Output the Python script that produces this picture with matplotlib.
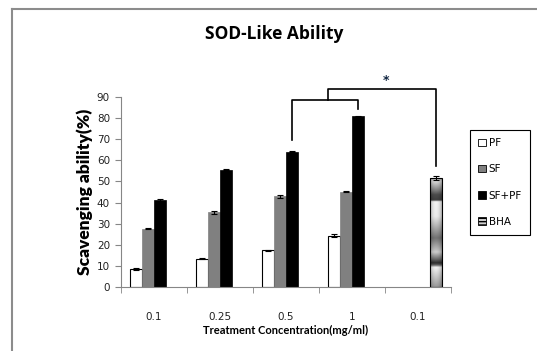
import numpy as np
import matplotlib
matplotlib.use('Agg')
from matplotlib import pyplot as plt
from matplotlib.patches import Patch
from matplotlib.lines import Line2D

# data
categories = ['0.1', '0.25', '0.5', '1', '0.1']
pf = [8.5, 13.5, 17.3, 24.3, np.nan]
pf_err = [0.5, 0.4, 0.3, 0.8, np.nan]
sf = [27.6, 35.3, 42.9, 45.1, np.nan]
sf_err = [0.3, 0.5, 0.8, 0.3, np.nan]
sfpf = [41.3, 55.6, 64.1, 80.8, np.nan]
sfpf_err = [0.4, 0.2, 0.3, 0.3, np.nan]
bha = [np.nan, np.nan, np.nan, np.nan, 51.6]
bha_err = [np.nan, np.nan, np.nan, np.nan, 0.8]

W, H = 537, 351
fig = plt.figure(figsize=(W / 100, H / 100), dpi=100)
ax = fig.add_axes([121 / W, 1 - 287 / H, 330 / W, 190 / H])

x = np.arange(len(categories))
w = 0.18
err_kw = dict(ecolor='black', capsize=2.5, elinewidth=0.8, capthick=0.8)

ax.bar(x - 1.5 * w, pf, w, color='white', edgecolor='black', lw=0.8,
       yerr=pf_err, error_kw=err_kw, zorder=2)
ax.bar(x - 0.5 * w, sf, w, color='#808080', edgecolor='#808080', lw=0.5,
       yerr=sf_err, error_kw=err_kw, zorder=2)
ax.bar(x + 0.5 * w, sfpf, w, color='black', edgecolor='black', lw=0.5,
       yerr=sfpf_err, error_kw=err_kw, zorder=2)
bars = ax.bar(x + 1.5 * w, bha, w, color='none', edgecolor='black', lw=0.8,
              yerr=bha_err, error_kw=err_kw, zorder=3)

# gradient fill of the BHA bar
prof_pos = [0.0, 0.03, 0.10, 0.15, 0.20, 0.215, 0.35, 0.55, 0.68, 0.74, 0.78, 0.80, 0.82, 1.0]
prof_val = [0.70, 0.85, 0.55, 0.30, 0.25, 0.95, 0.92, 0.45, 0.80, 0.45, 0.18, 0.40, 0.95, 0.60]
ys = np.linspace(0, 1, 200)
col = np.interp(ys, prof_pos, prof_val)
xs = np.linspace(-1, 1, 30)
shade = 1 - 0.25 * xs ** 2
img = np.outer(col, shade)
for b in bars:
    h = b.get_height()
    if np.isnan(h):
        continue
    x0 = b.get_x()
    im = ax.imshow(img, cmap='gray', vmin=0, vmax=1, aspect='auto',
                   extent=[x0, x0 + b.get_width(), 0, h], origin='upper', zorder=2)
    im.set_clip_path(b)

ax.set_xlim(-0.5, len(categories) - 0.5)
ax.set_ylim(0, 90)
ax.set_yticks(np.arange(0, 91, 10))
ax.set_xticks(x)
ax.set_xticklabels(categories, fontsize=7.5, color='#222222')
ax.set_xticks(np.arange(len(categories) + 1) - 0.5, minor=True)
ax.tick_params(axis='x', which='major', length=0, pad=18)
ax.tick_params(axis='x', which='minor', length=4, color='#868686')
ax.tick_params(axis='y', length=4, color='#868686', labelsize=7.5, labelcolor='#222222', pad=4)
for s in ['top', 'right']:
    ax.spines[s].set_visible(False)
for s in ['left', 'bottom']:
    ax.spines[s].set_color('#868686')

ax.set_ylabel('Scavenging ability(%)', fontsize=12.5, fontweight='heavy', family='Lato', labelpad=3)
ax.set_xlabel('Treatment Concentration(mg/ml)', fontsize=8, fontweight='bold', family='Lato', labelpad=2)
fig.text(274 / W, 1 - 34 / H, 'SOD-Like Ability', ha='center', va='center',
         fontsize=12.5, fontweight='bold', family=['Open Sans', 'DejaVu Sans'])

# significance brackets
xa = x[2] + 0.5 * w
xb = x[3] + 0.5 * w
xc = x[4] + 1.5 * w
low = 88.7
ax.plot([xa, xa, xb, xb], [sfpf[2] + 5.7, low, low, sfpf[3] + 3.7],
        color='black', lw=1.2, clip_on=False)
xm = 2.64
top = 93.8
ax.plot([xm, xm, xc, xc], [low, top, top, bha[4] + 5.9],
        color='black', lw=1.2, clip_on=False)
ax.text(3.52, 98.0, '*', ha='center', va='center', fontsize=9, fontweight='bold',
        color='#0f2440', clip_on=False)

# legend
handles = [Patch(facecolor='white', edgecolor='black', lw=0.6),
           Patch(facecolor='#808080', edgecolor='black', lw=0.6),
           Patch(facecolor='black', edgecolor='black', lw=0.6),
           Patch(facecolor='#d0d0d0', edgecolor='black', lw=0.6, hatch='-----')]
leg = fig.legend(handles, ['PF', 'SF', 'SF+PF', 'BHA'], loc='upper left',
                 bbox_to_anchor=(470 / W, 1 - 130 / H), fontsize=7.5,
                 handlelength=0.7, handleheight=0.7, handletextpad=0.3,
                 labelspacing=1.55, borderpad=0.8, fancybox=False,
                 framealpha=1, edgecolor='black', borderaxespad=0)
leg.get_frame().set_linewidth(0.8)

# outer frame lines
fig.add_artist(Line2D([11.5 / W, 11.5 / W], [0, 1 - 8.5 / H], transform=fig.transFigure,
                      color='#8c8c8c', lw=1.5))
fig.add_artist(Line2D([11.5 / W, 1], [1 - 8.5 / H, 1 - 8.5 / H], transform=fig.transFigure,
                      color='#8c8c8c', lw=1.5))

fig.savefig('out.png', dpi=100)
